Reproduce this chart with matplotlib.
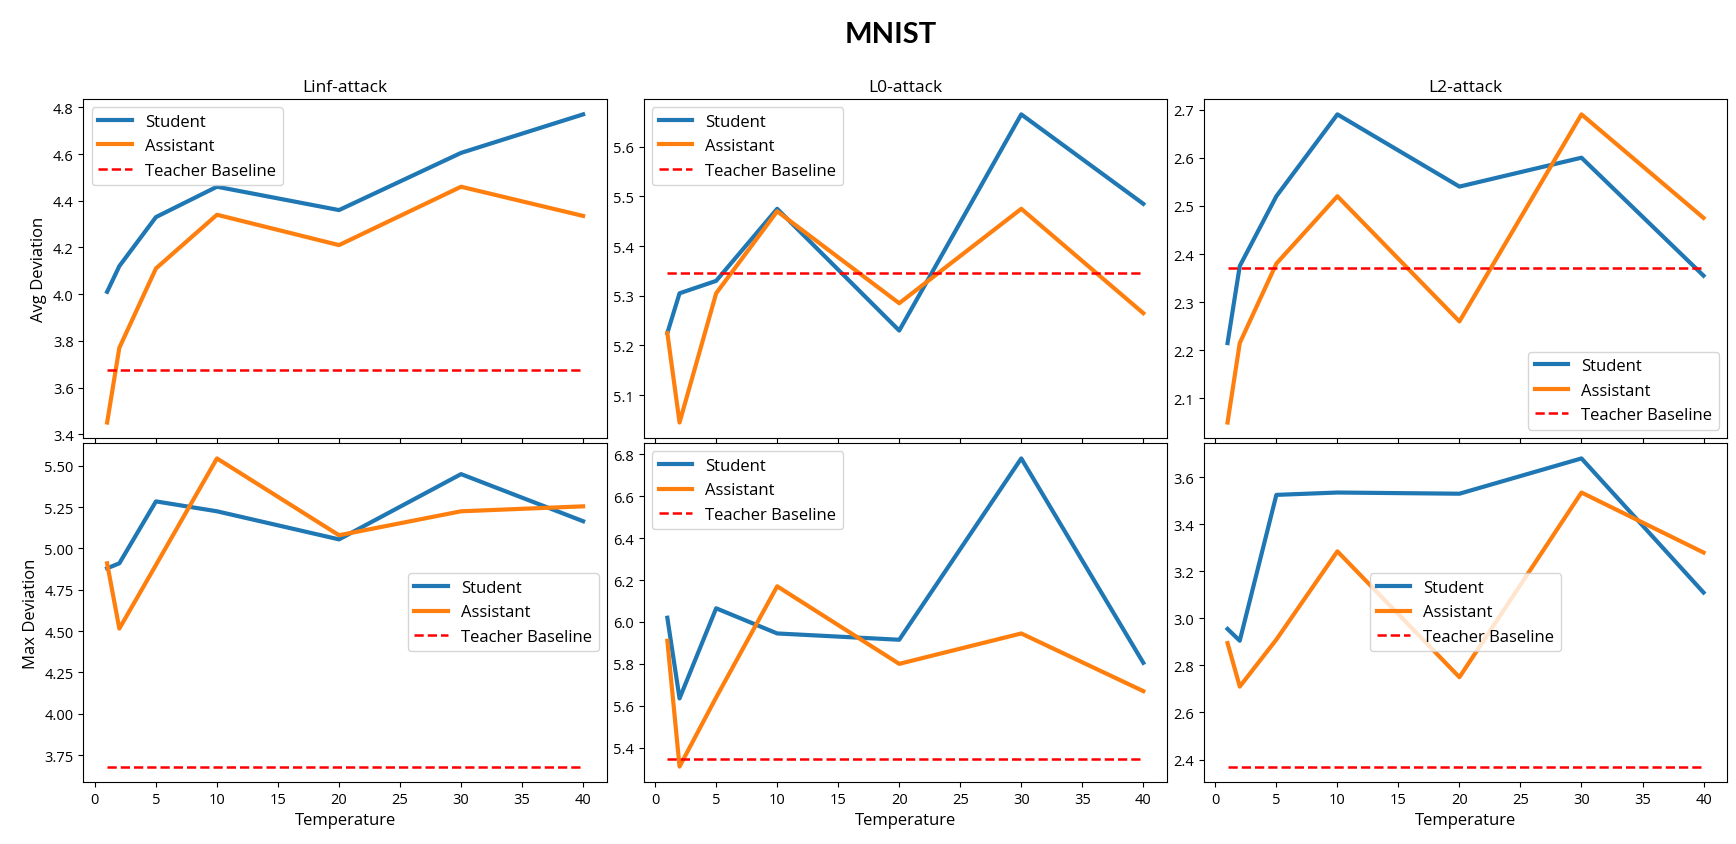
import numpy as np
import matplotlib
matplotlib.use("Agg")
import matplotlib.pyplot as plt

plt.rcParams['font.family'] = ['Open Sans', 'DejaVu Sans']

# temperaturas
temps = [1, 2, 5, 10, 20, 30, 40]

# fila superior: desviacion media
linf_avg_student = [4.01, 4.12, 4.33, 4.46, 4.36, 4.605, 4.77]
linf_avg_assistant = [3.45, 3.77, 4.11, 4.34, 4.21, 4.46, 4.335]
linf_avg_teacher = 3.675

l0_avg_student = [5.225, 5.305, 5.33, 5.475, 5.23, 5.665, 5.485]
l0_avg_assistant = [5.225, 5.045, 5.305, 5.47, 5.285, 5.475, 5.265]
l0_avg_teacher = 5.345

l2_avg_student = [2.215, 2.375, 2.52, 2.69, 2.54, 2.60, 2.355]
l2_avg_assistant = [2.05, 2.215, 2.38, 2.52, 2.26, 2.69, 2.475]
l2_avg_teacher = 2.37

# fila inferior: desviacion maxima
linf_max_student = [4.88, 4.91, 5.285, 5.225, 5.055, 5.45, 5.165]
linf_max_assistant = [4.91, 4.515, 4.90, 5.545, 5.08, 5.225, 5.255]
linf_max_teacher = 3.68

l0_max_student = [6.02, 5.635, 6.065, 5.945, 5.915, 6.78, 5.805]
l0_max_assistant = [5.91, 5.31, 5.64, 6.17, 5.80, 5.945, 5.67]
l0_max_teacher = 5.345

l2_max_student = [2.955, 2.905, 3.525, 3.535, 3.53, 3.68, 3.11]
l2_max_assistant = [2.895, 2.71, 2.91, 3.285, 2.75, 3.535, 3.28]
l2_max_teacher = 2.37

titles = ['Linf-attack', 'L0-attack', 'L2-attack']
row_labels = ['Avg Deviation', 'Max Deviation']

panels = [
    [(linf_avg_student, linf_avg_assistant, linf_avg_teacher, 'upper left'),
     (l0_avg_student, l0_avg_assistant, l0_avg_teacher, 'upper left'),
     (l2_avg_student, l2_avg_assistant, l2_avg_teacher, 'lower right')],
    [(linf_max_student, linf_max_assistant, linf_max_teacher, 'center right'),
     (l0_max_student, l0_max_assistant, l0_max_teacher, 'upper left'),
     (l2_max_student, l2_max_assistant, l2_max_teacher, 'center')],
]

fig, axes = plt.subplots(2, 3, figsize=(17.36, 8.45), dpi=100, sharex=True)
fig.subplots_adjust(left=0.048, right=0.995, top=0.8817, bottom=0.0734,
                    hspace=0.015, wspace=0.07)

for i in range(2):
    for j in range(3):
        ax = axes[i, j]
        student, assistant, teacher, loc = panels[i][j]
        ax.plot(temps, student, color='#1f77b4', lw=3, label='Student')
        ax.plot(temps, assistant, color='#ff7f0e', lw=3, label='Assistant')
        ax.plot([temps[0], temps[-1]], [teacher, teacher], 'r--', lw=1.8,
                label='Teacher Baseline')
        ax.legend(loc=loc, fontsize=12)
        ax.tick_params(labelsize=10.5)
        if i == 0:
            ax.set_title(titles[j], fontsize=12.5)
        else:
            ax.set_xlabel('Temperature', fontsize=12)
        if j == 0:
            ax.set_ylabel(row_labels[i], fontsize=12)

axes[1, 0].set_xticks(np.arange(0, 41, 5))

fig.text(0.513, 0.958, 'MNIST', ha='center', va='center', fontsize=21,
         fontweight='bold', family=['Lato', 'DejaVu Sans'])

plt.savefig('out.png')
